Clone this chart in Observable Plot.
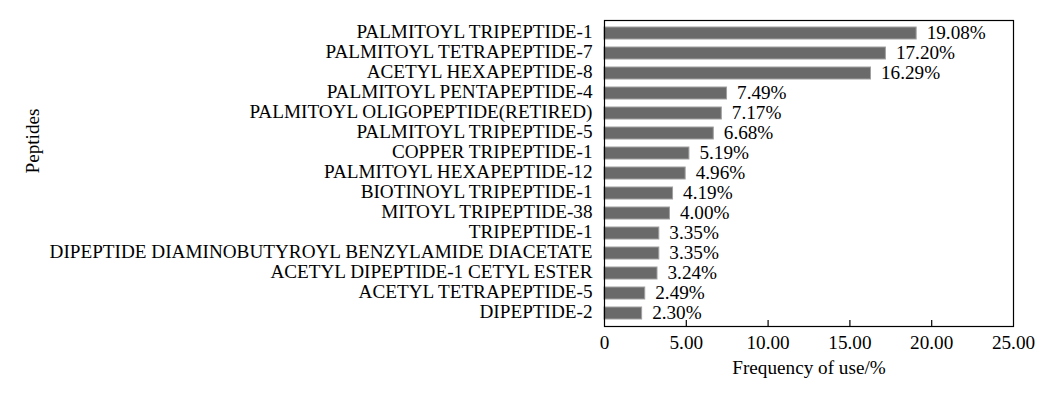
<!DOCTYPE html>
<html>
<head>
<meta charset="utf-8">
<script src="https://cdn.jsdelivr.net/npm/d3@7"></script>
<script src="https://cdn.jsdelivr.net/npm/@observablehq/plot@0.6"></script>
<style>
  html, body { margin: 0; padding: 0; background: #fff; }
  svg { display: block; }
</style>
</head>
<body>
<div id="chart"></div>
<script>
const peptides = [
  "PALMITOYL TRIPEPTIDE-1",
  "PALMITOYL TETRAPEPTIDE-7",
  "ACETYL HEXAPEPTIDE-8",
  "PALMITOYL PENTAPEPTIDE-4",
  "PALMITOYL OLIGOPEPTIDE(RETIRED)",
  "PALMITOYL TRIPEPTIDE-5",
  "COPPER TRIPEPTIDE-1",
  "PALMITOYL HEXAPEPTIDE-12",
  "BIOTINOYL TRIPEPTIDE-1",
  "MITOYL TRIPEPTIDE-38",
  "TRIPEPTIDE-1",
  "DIPEPTIDE DIAMINOBUTYROYL BENZYLAMIDE DIACETATE",
  "ACETYL DIPEPTIDE-1 CETYL ESTER",
  "ACETYL TETRAPEPTIDE-5",
  "DIPEPTIDE-2"
];
const frequencies = [19.08, 17.20, 16.29, 7.49, 7.17, 6.68, 5.19, 4.96, 4.19, 4.00, 3.35, 3.35, 3.24, 2.49, 2.30];
const xTicks = [0, 5, 10, 15, 20, 25];
const xTitle = "Frequency of use/%";
const yTitle = "Peptides";

const data = peptides.map((name, i) => ({name, value: frequencies[i]}));

const chart = Plot.plot({
  width: 1059,
  height: 394,
  marginLeft: 604,
  marginRight: 46,
  marginTop: 20,
  marginBottom: 68,
  style: {fontFamily: "'Liberation Serif', 'Times New Roman', serif", fontSize: "19.2px", color: "black", background: "white"},
  x: {domain: [0, 25]},
  y: {domain: peptides, paddingInner: 0.38, paddingOuter: 0.19},
  marks: [
    Plot.barX(data, {x: "value", y: "name", fill: "#6a6a6a", stroke: "#a0a0a0", strokeWidth: 1}),
    Plot.text(data, {x: "value", y: "name", text: d => d.value.toFixed(2) + "%", textAnchor: "start", dx: 10, dy: -1, fill: "black"}),
    Plot.frame({stroke: "black", strokeWidth: 1.2}),
    Plot.axisX({ticks: xTicks, tickSize: 0, tickPadding: 9, tickFormat: d => d === 0 ? "0" : d.toFixed(2), label: null}),
    Plot.axisX({ticks: xTicks.slice(1, -1), tickSize: -6, tickFormat: () => "", label: null, strokeWidth: 1.2}),
    Plot.axisY({tickSize: 0, tickPadding: 12, dy: -1.5, label: null}),
    Plot.text([xTitle], {frameAnchor: "bottom", dy: 41, lineAnchor: "middle", fill: "black"}),
    Plot.text([yTitle], {frameAnchor: "left", dx: -572, rotate: -90, lineAnchor: "middle", fill: "black"})
  ]
});
document.getElementById("chart").appendChild(chart);
</script>
</body>
</html>
